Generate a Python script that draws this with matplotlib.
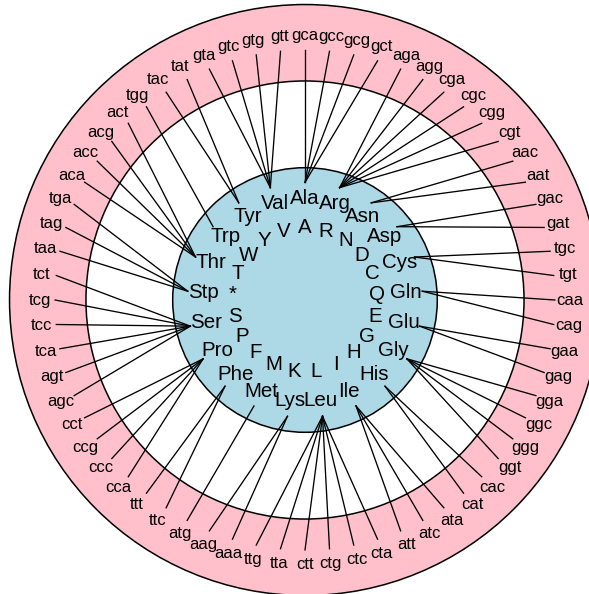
import matplotlib.pyplot as plt
import numpy as np
from matplotlib.patches import Circle

plt.rcParams['font.family'] = ['Liberation Sans', 'DejaVu Sans']

# amino acids, clockwise from the top
aa3 = ['Ala', 'Arg', 'Asn', 'Asp', 'Cys', 'Gln', 'Glu', 'Gly', 'His', 'Ile', 'Leu',
       'Lys', 'Met', 'Phe', 'Pro', 'Ser', 'Stp', 'Thr', 'Trp', 'Tyr', 'Val']
aa1 = ['A', 'R', 'N', 'D', 'C', 'Q', 'E', 'G', 'H', 'I', 'L',
       'K', 'M', 'F', 'P', 'S', '*', 'T', 'W', 'Y', 'V']

# codons, clockwise from the top, and the amino acid each one codes for
codons = ['gca', 'gcc', 'gcg', 'gct',
          'aga', 'agg', 'cga', 'cgc', 'cgg', 'cgt',
          'aac', 'aat', 'gac', 'gat', 'tgc', 'tgt', 'caa', 'cag', 'gaa', 'gag',
          'gga', 'ggc', 'ggg', 'ggt', 'cac', 'cat', 'ata', 'atc', 'att',
          'cta', 'ctc', 'ctg', 'ctt', 'tta', 'ttg', 'aaa', 'aag', 'atg', 'ttc', 'ttt',
          'cca', 'ccc', 'ccg', 'cct',
          'agc', 'agt', 'tca', 'tcc', 'tcg', 'tct',
          'taa', 'tag', 'tga', 'aca', 'acc', 'acg', 'act', 'tgg', 'tac', 'tat',
          'gta', 'gtc', 'gtg', 'gtt']
codon_aa = ['Ala'] * 4 + ['Arg'] * 6 + ['Asn'] * 2 + ['Asp'] * 2 + ['Cys'] * 2 + \
           ['Gln'] * 2 + ['Glu'] * 2 + ['Gly'] * 4 + ['His'] * 2 + ['Ile'] * 3 + \
           ['Leu'] * 6 + ['Lys'] * 2 + ['Met'] + ['Phe'] * 2 + ['Pro'] * 4 + \
           ['Ser'] * 6 + ['Stp'] * 3 + ['Thr'] * 4 + ['Trp'] + ['Tyr'] * 2 + ['Val'] * 4

fig = plt.figure(figsize=(5.89, 5.94), dpi=100)
ax = fig.add_axes([0, 0, 1, 1])
ax.set_xlim(-305 / 294, 284 / 294)
ax.set_ylim(-294 / 294, 300 / 294)
ax.set_aspect('equal')
ax.axis('off')

# rings
ax.add_patch(Circle((0, 0), 1.005, facecolor='pink', edgecolor='black', lw=1.1, zorder=1))
ax.add_patch(Circle((0, 0), 0.745, facecolor='white', edgecolor='black', lw=1.1, zorder=2))
ax.add_patch(Circle((0, 0), 0.45, facecolor='lightblue', edgecolor='black', lw=1.1, zorder=3))

aa_ang = np.deg2rad(90 - np.arange(len(aa3)) * 360 / len(aa3))
cod_ang = np.deg2rad(90 - np.arange(len(codons)) * 360 / len(codons))
aa_index = {a: i for i, a in enumerate(aa3)}

# codon labels and links to amino acids
for i, c in enumerate(codons):
    a = cod_ang[i]
    b = aa_ang[aa_index[codon_aa[i]]]
    ax.plot([0.85 * np.cos(a), 0.40 * np.cos(b)], [0.85 * np.sin(a), 0.40 * np.sin(b)],
            color='black', lw=0.95, zorder=4)
    ax.text(0.9 * np.cos(a), 0.9 * np.sin(a), c, ha='center', va='center',
            fontsize=12, zorder=5)

# amino acid labels
for i in range(len(aa3)):
    a = aa_ang[i]
    ax.text(0.345 * np.cos(a), 0.345 * np.sin(a), aa3[i], ha='center', va='center',
            fontsize=14.8, zorder=5)
    ax.text(0.245 * np.cos(a), 0.245 * np.sin(a), aa1[i], ha='center', va='center',
            fontsize=14.8, zorder=5)

fig.savefig('out.png', dpi=100)
